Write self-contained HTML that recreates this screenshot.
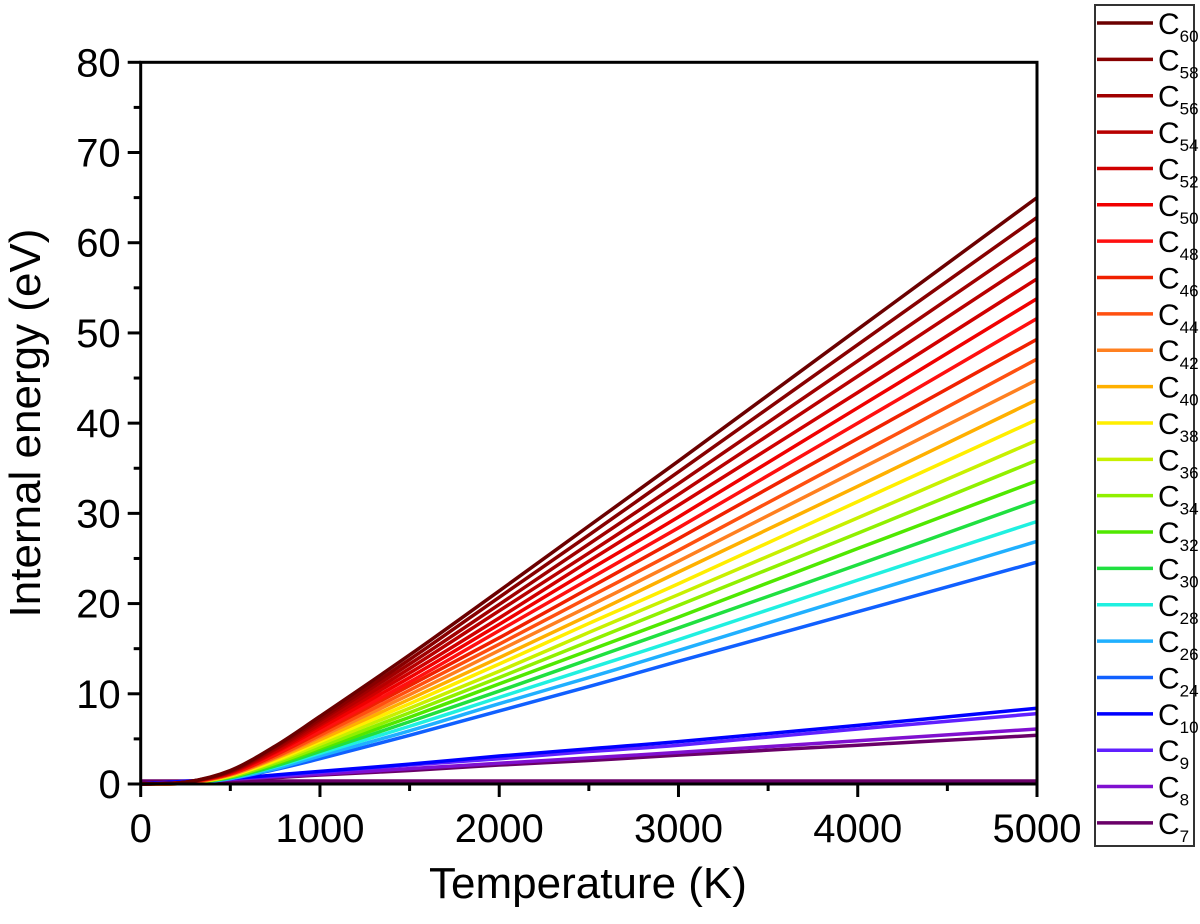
<!DOCTYPE html>
<html><head><meta charset="utf-8"><style>
body{margin:0;background:#fff;}
svg{display:block;font-family:"Liberation Sans",Arial,sans-serif;}
</style></head><body>
<svg id="chart" width="1200" height="924" viewBox="0 0 1200 924" xmlns="http://www.w3.org/2000/svg">
<g id="lines"></g>
<g id="axes"></g>
<g id="legend"></g>
<text x="0" y="0" transform="translate(40,423) rotate(-90)" text-anchor="middle" font-size="44">Internal energy (eV)</text>
<text x="588" y="898" text-anchor="middle" font-size="44">Temperature (K)</text>
</svg>
<script>
const temps=[0,250,500,750,1000,1500,2000,2500,3000,4000,5000];
const labels=["60","58","56","54","52","50","48","46","44","42","40","38","36","34","32","30","28","26","24","10","9","8","7"];
const colors=["#6b0000","#880000","#a00000","#b80000","#d00000","#f00000","#ff1010","#f02000","#ff5010","#ff8020","#ffb000","#ffee00","#c8f000","#90f000","#50e800","#20e040","#20f0e0","#20b0ff","#1060ff","#0000ff","#6020ff","#8010d0","#6a0068"];
const values=[
[0,0.2,1.5,4.2,7.5,14.3,21.4,28.6,35.8,50.4,65.0],
[0,0.2,1.4,4.1,7.2,13.8,20.7,27.6,34.6,48.7,62.8],
[0,0.2,1.4,3.9,7.0,13.3,19.9,26.6,33.3,46.9,60.5],
[0,0.2,1.3,3.8,6.7,12.8,19.2,25.6,32.1,45.2,58.3],
[0,0.2,1.3,3.6,6.5,12.3,18.4,24.7,30.9,43.4,56.0],
[0,0.2,1.2,3.5,6.2,11.8,17.7,23.7,29.6,41.7,53.8],
[0,0.2,1.2,3.3,5.9,11.3,17.0,22.7,28.4,40.0,51.6],
[0,0.2,1.1,3.2,5.7,10.9,16.2,21.7,27.2,38.3,49.3],
[0,0.1,1.1,3.0,5.4,10.4,15.5,20.7,25.9,36.5,47.1],
[0,0.1,1.0,2.9,5.2,9.9,14.8,19.7,24.7,34.8,44.8],
[0,0.1,1.0,2.8,4.9,9.4,14.0,18.7,23.5,33.0,42.6],
[0,0.1,0.9,2.6,4.7,8.9,13.3,17.8,22.2,31.3,40.4],
[0,0.1,0.9,2.5,4.4,8.4,12.5,16.8,21.0,29.5,38.1],
[0,0.1,0.8,2.3,4.1,7.9,11.8,15.8,19.8,27.8,35.9],
[0,0.1,0.8,2.2,3.9,7.4,11.1,14.8,18.5,26.1,33.6],
[0,0.1,0.7,2.0,3.6,6.9,10.3,13.8,17.3,24.3,31.4],
[0,0.1,0.7,1.9,3.4,6.4,9.6,12.8,16.0,22.6,29.1],
[0,0.1,0.6,1.7,3.1,5.9,8.9,11.8,14.8,20.9,26.9],
[0,0.1,0.6,1.6,2.8,5.4,8.1,10.8,13.6,19.1,24.6],
[0,0.3,0.6,1.0,1.4,2.2,3.1,3.9,4.7,6.5,8.4],
[0,0.3,0.6,0.9,1.3,2.1,2.8,3.6,4.3,6.1,7.8],
[0,0.2,0.5,0.8,1.1,1.7,2.3,2.9,3.5,4.8,6.1],
[0,0.2,0.4,0.7,1.0,1.5,2.1,2.6,3.2,4.3,5.4]
];
const flatValues=[0.25,0.25,0.25,0.25,0.25,0.25,0.25,0.25,0.25,0.25,0.25];
const xTicks=[0,1000,2000,3000,4000,5000];
const yTicks=[0,10,20,30,40,50,60,70,80];
const NS="http://www.w3.org/2000/svg";
const X0=140.7,X1=1037,Y0=784,Y1=62.3;
const xs=t=>X0+(X1-X0)*t/5000;
const ys=v=>Y0-(Y0-Y1)*v/80;
function mk(tag,attrs,parent){const e=document.createElementNS(NS,tag);for(const k in attrs)e.setAttribute(k,attrs[k]);parent.appendChild(e);return e;}
function pathFor(vals){
  const p=vals.map((v,i)=>[xs(temps[i]),ys(v)]);
  let d="M"+p[0][0]+","+p[0][1];
  for(let i=0;i<p.length-1;i++){
    const a=p[i-1]||p[i],b=p[i],c=p[i+1],e=p[i+2]||c;
    const c1x=b[0]+(c[0]-a[0])/6,c1y=b[1]+(c[1]-a[1])/6;
    const c2x=c[0]-(e[0]-b[0])/6,c2y=c[1]-(e[1]-b[1])/6;
    d+=" C"+c1x+","+c1y+" "+c2x+","+c2y+" "+c[0]+","+c[1];
  }
  return d;
}
const gl=document.getElementById('lines');
const fl=mk('path',{d:pathFor(flatValues),stroke:"#6a0068",'stroke-width':5,fill:"none"},gl);


for(let s=values.length-1;s>=0;s--){
  const pth=mk('path',{d:pathFor(values[s]),stroke:colors[s],'stroke-width':3.5,fill:"none"},gl);
  
  
}
const ga=document.getElementById('axes');
mk('rect',{x:X0,y:Y1,width:X1-X0,height:Y0-Y1,fill:"none",stroke:"#000",'stroke-width':3},ga);
for(let i=0;i<xTicks.length;i++){
  const x=xs(xTicks[i]);
  mk('line',{x1:x,x2:x,y1:Y0,y2:Y0+13,stroke:"#000",'stroke-width':3},ga);
  if(i<xTicks.length-1){const xm=xs(xTicks[i]+500);mk('line',{x1:xm,x2:xm,y1:Y0,y2:Y0+7,stroke:"#000",'stroke-width':3},ga);}
  const t=mk('text',{x:x,y:Y0+58,'text-anchor':"middle",'font-size':40},ga);
  t.textContent=xTicks[i];
  
  
}
for(let i=0;i<yTicks.length;i++){
  const y=ys(yTicks[i]);
  mk('line',{x1:X0-13,x2:X0,y1:y,y2:y,stroke:"#000",'stroke-width':3},ga);
  if(i<yTicks.length-1){const ym=ys(yTicks[i]+5);mk('line',{x1:X0-7,x2:X0,y1:ym,y2:ym,stroke:"#000",'stroke-width':3},ga);}
  const t=mk('text',{x:X0-20,y:y+14,'text-anchor':"end",'font-size':40},ga);
  t.textContent=yTicks[i];
  
  
}
const lg=document.getElementById('legend');
mk('rect',{x:1095,y:5,width:99,height:841,fill:"#fff",stroke:"#333",'stroke-width':2},lg);
for(let i=0;i<labels.length;i++){
  const y=23+i*36.36;
  const g=mk('g',{},lg);
  
  
  mk('line',{x1:1097,x2:1153,y1:y,y2:y,stroke:colors[i],'stroke-width':3.5},g);
  const t=mk('text',{x:1158,y:y+11,'font-size':30},g);
  t.textContent="C";
  const sub=mk('tspan',{'font-size':17,dy:8},t);
  sub.textContent=labels[i];
}
</script>
</body></html>
